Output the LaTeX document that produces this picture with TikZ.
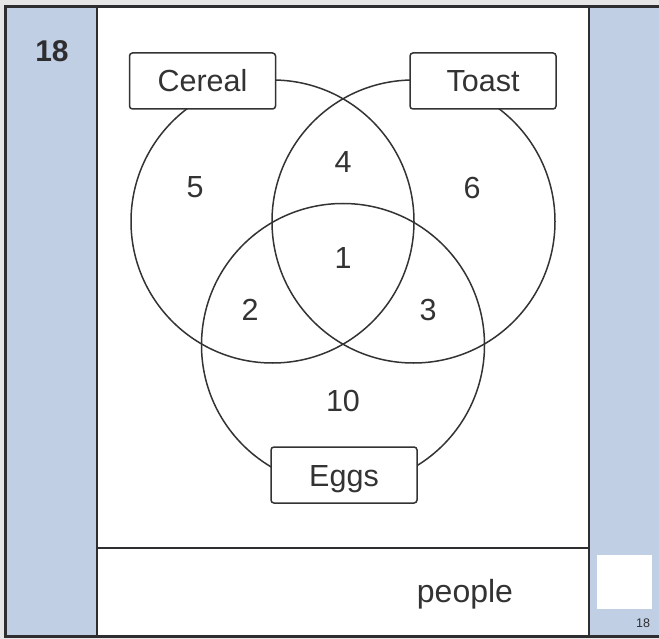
\documentclass[tikz,border=0pt]{standalone}
\usepackage{fontspec}
\setmainfont{Liberation Sans}
\definecolor{panelblue}{HTML}{C0CFE4}
\definecolor{ink}{HTML}{333333}
\definecolor{framegray}{HTML}{2E2E30}
\definecolor{margingray}{HTML}{E6E6E6}
\begin{document}
\begin{tikzpicture}[x=1pt,y=-1pt,
  setcircle/.style={draw=ink,line width=1.5pt,circle,minimum size=283pt,inner sep=0pt},
  labelbox/.style={draw=ink,line width=1.5pt,fill=white,rounded corners=3pt,
    minimum width=146pt,minimum height=56pt,inner sep=0pt,
    text height=22pt,text depth=0pt,text=ink,
    font=\fontsize{30.5}{35}\selectfont},
  count/.style={text=ink,inner sep=0pt,font=\fontsize{30.5}{35}\selectfont},
  divider/.style={draw=framegray,line width=2.5pt}]
\useasboundingbox (0,0) rectangle (659,639);
\fill[margingray] (0,0) rectangle (659,639);
% outer frame
\draw[framegray,line width=3pt,fill=white] (5.5,6.5) rectangle (664,636);
\fill[panelblue] (7,8) rectangle (97,634.5);
\fill[panelblue] (589,8) rectangle (659,634.5);
\draw[divider] (97,8) -- (97,634.5);
\draw[divider] (589,8) -- (589,634.5);
\draw[framegray,line width=2pt] (97,548) -- (589,548);
% question number
\node[text=framegray,inner sep=0pt,font=\fontsize{30}{35}\selectfont\bfseries] (qnum) at (52,51) {18};
% Venn circles
\node[setcircle] (cereal) at (272.5,221.5) {};
\node[setcircle] (toast) at (413.5,221.5) {};
\node[setcircle] (eggs) at (343,345) {};
% labels
\node[labelbox] (cereallbl) at (202.5,81) {Cereal};
\node[labelbox] (toastlbl) at (483,81) {Toast};
\node[labelbox] (eggslbl) at (344,475) {Eggs};
% counts
\node[count] (c5) at (195,187) {5};
\node[count] (c4) at (343,162) {4};
\node[count] (c6) at (472,188) {6};
\node[count] (c1) at (343,258) {1};
\node[count] (c2) at (250,310) {2};
\node[count] (c3) at (428,310) {3};
\node[count] (c10) at (343,401) {10};
% answer
\node[text=ink,inner sep=0pt,font=\fontsize{32}{36}\selectfont,anchor=base] (people) at (465,602) {people};
\fill[white] (597,555) rectangle (652,609);
\node[text=framegray,inner sep=0pt,font=\fontsize{12.5}{14}\selectfont] (small) at (643,623) {18};
\end{tikzpicture}
\end{document}
